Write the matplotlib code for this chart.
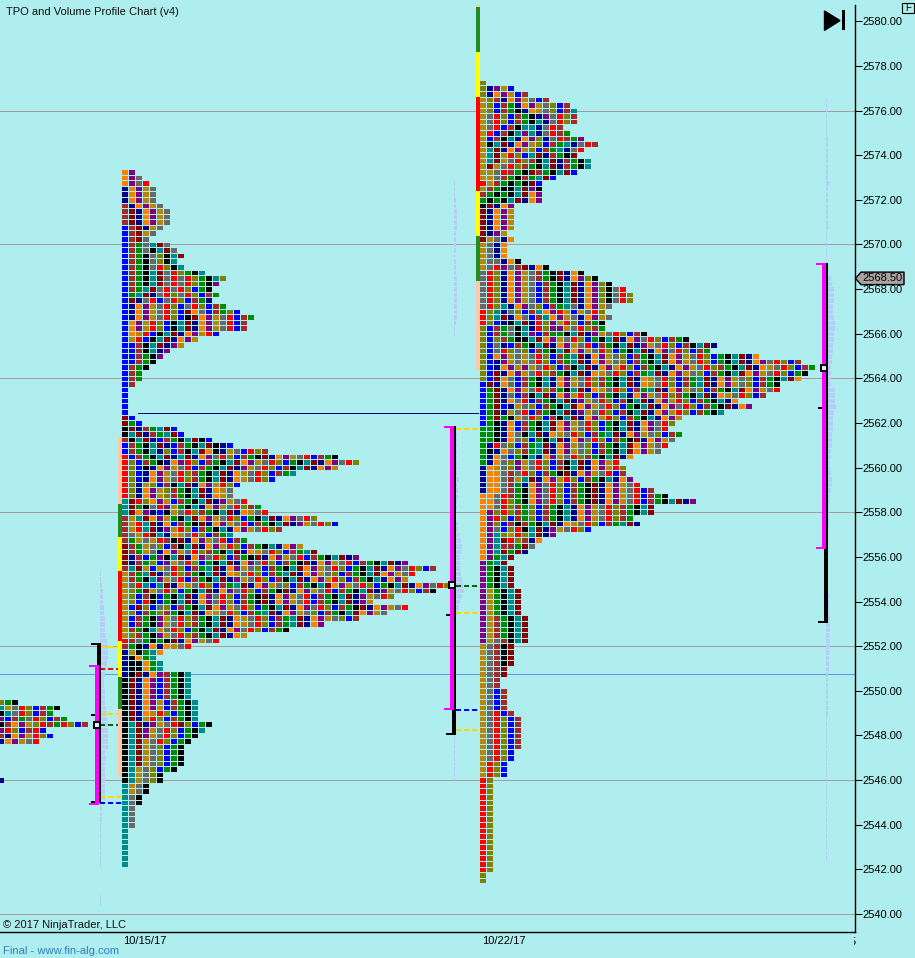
import matplotlib
matplotlib.use('Agg')
import matplotlib.pyplot as plt
from matplotlib.transforms import Bbox

plt.rcParams['font.family'] = ['Liberation Sans', 'DejaVu Sans']
plt.rcParams['lines.scale_dashes'] = False

BG = '#afeeee'
colors = {'b': '#0000ff', 'w': '#a52a2a', 'g': '#008b00', 'k': '#000000', 't': '#008b8b',
          'd': '#8b0000', 'n': '#00008b', 'o': '#ff7f00', 'p': '#800080', 'y': '#b8860b',
          's': '#696969', 'r': '#ff0000', 'l': '#808000'}
cycle = 'bwgktdnopysrl'
# periods that did not trade in a band of rows, used past the typed colours
band_shift = [0, 2, 5, 1, 7, 3, 9, 4, 11, 6, 8, 12, 10]

# (cells in the row, colours of the first cells) from the top price downwards
profile_a_top = 2549.5
profile_a = [(3, 'lgk'), (9, 'tysrlbwgk'), (8, 'ktsrlbwg'), (10, 'pbwgsrlbwg'), (13, 'kwopylrwgrlbw'),
             (7, 'prlbwrb'), (8, 'wnopyrlb'), (6, 'nopysr'),
             (0, ''), (0, ''), (0, ''), (0, ''), (0, ''), (0, ''), (1, 'n')]

profile_b_top = 2573.25
profile_b = [(2, 'op'), (3, 'ops'), (4, 'opsr'), (5, 'nopys'), (5, 'nopys'), (5, 'nopys'), (6, 'wnopys'),
             (7, 'wdnopys'), (7, 'wdnopys'), (7, 'wdnopys'), (6, 'bwdnys'), (5, 'bwdys'), (4, 'bwds'),
             (7, 'bwgstds'), (8, 'bwgsktds'), (9, 'bwgkslktd'), (8, 'bwgkslkt'), (9, 'bwgksrlkt'),
             (12, 'bwgktdsrlgkt'), (15, 'bwgktdsrsrlgkt'), (14, 'bwgktdsrsrlgk'), (13, 'bwgtdsrsrlbgk'),
             (14, 'bgtdnsrlsrlbwg'), (13, 'bdnsrbsrlbwg'), (15, 'bnopysrlbsrlbwg'), (17, 'bnopysrlbdosbwg'),
             (19, 'bnopysrlbkdopysrbwg'), (18, 'bopyrlbktdnopysrbw'), (18, 'bopyrlbktdnopysrbw'),
             (14, 'boyrbktdnopyrb'), (11, 'byrbktdnopy'), (9, 'bbwktdnpy'), (7, 'bbwktnp'), (6, 'bbwgkp'),
             (5, 'bbwgk'), (4, 'bwgk'), (3, 'bwg'), (3, 'bwg'), (2, 'bw'), (1, 'b'), (1, 'b'), (1, 'b'),
             (1, 'b'), (1, 'b'), (2, 'db'), (3, 'dgb'), (8, 'kdnwgtdb'),
             (9, 'ktdnwgtdb'), (13, 'wktdnbwgktdkb'), (16, 'bwgktdnbwgktdknb'), (21, 'bwgktnlbwktdoknysb'),
             (31, 'rbwgktdn'), (34, 'rlbwgknoprl'), (31, 'rlbknop'), (25, 'rlbnopys'), (22, 'rlbnopys'),
             (17, 'rlny'), (16, 'rlnopy'), (16, 'rlnopy'), (18, 'tdrlopy'), (20, 'tdgksrpy'), (21, 'tdopnbk'),
             (28, 'wytdopy'), (31, 'wyrtdno'), (23, 'wyrtdn'), (16, 'wsyrdt'), (18, 'wgysyrw'), (26, 'dwgys'),
             (28, 'dwgys'), (34, 'dnwbgp'), (41, 'dnwglb'), (45, 'wtdyb'), (42, 'ywgtdn'), (41, 'ywgkt'),
             (47, 'ysrtb'), (45, 'ylgd'), (39, 'ylbwk'), (36, 'ylbrk'), (41, 'ybdlb'), (38, 'ylbwg'),
             (34, 'ybwgk'), (29, 'ybwgk'), (24, 'ywgkt'), (18, 'ylwgk'), (14, 'rwsgk'), (10, 'wgkno'),
             (6, 'nykgto'), (5, 'nkogt'), (6, 'nkkogt'), (6, 'nkkogt'), (10, 'nkdnopwgkt'),
             (10, 'kdnopbwgkt'), (10, 'kdnopbwgkt'), (10, 'kdnopbwgkt'), (10, 'kdnopbwgkt'),
             (11, 'kdnopybwgkt'), (11, 'kdnopybwgkt'), (11, 'kdnoyrlbgkt'), (11, 'kdnyrlbwgkt'),
             (13, 'ktdnpysrdlbgk'), (12, 'ktdpysrlbgkt'), (11, 'ktdpysrlbgk'), (10, 'ktdysrlbgk'),
             (9, 'ktdyslbgk'), (9, 'ktdyslbgk'), (9, 'ktdyslbgk'), (9, 'ktdyslbgk'), (8, 'ktyslbgk'),
             (6, 'ktyslk'), (6, 'ktyslk'), (4, 'tysk'), (4, 'tysk'), (3, 'tsk'), (3, 'tsk'),
             (2, 'ts'), (2, 'ts'), (2, 'ts'), (2, 'ts'),
             (1, 't'), (1, 't'), (1, 't'), (1, 't'), (1, 't'), (1, 't'), (1, 't')]

profile_c_top = 2577.25
profile_c = [(1, 'l'), (5, 'lnpyb'), (7, 'lnopybw'), (10, 'ylwnopysbw'), (13, 'ylbwgnopyslbw'), (14, 'ylbwgknoyslbw'),
             (14, 'ysrlbwgknpsrlw'), (14, 'ysrlbwgktnsrlw'), (12, 'ysrbwkttnsrw'), (13, 'yrbwktptnsrwg'),
             (15, 'ybwktnoplnsrwg'), (17, 'yktdnopylbwgtnsrw'), (15, 'ytdnopylbwgtnsr'), (14, 'ytdyrlbtdnwgk'),
             (16, 'ytdysrlwktdnwgkt'), (16, 'ydysrlwgktdnwgkt'), (14, 'yysrwgkdwgktd'), (11, 'yyswgkwgtd'),
             (9, 'rywgkgkd'), (9, 'ywgkktdp'), (9, 'wgkgktdop'), (9, 'gkgktdnop'), (5, 'kdnop'), (5, 'dnopy'),
             (5, 'dnopy'), (5, 'dnopy'), (5, 'dnopy'), (4, 'dnpy'), (5, 'dysno'), (4, 'ysno'), (4, 'ysno'),
             (4, 'ysno'), (6, 'yssnok'), (10, 'ysrpswdnok'),
             (15, 'srlnopyswgkdnok'), (17, 'srlnopyswgkdnoplk'), (19, 'srlnopysbwgktdnoplk'),
             (21, 'srlnopysbwgktdnoplk'), (22, 'srlnopysbwgktdnoplk'), (22, 'srlnopysbwgktdnoplk'),
             (19, 'srltnopslbwgts'), (18, 'rltnslbwtopryb'), (19, 'rltdnosbwtopys'), (18, 'rlbnktdnrl'),
             (18, 'lbwgsktnrlp'), (24, 'lbwgsktpbwg'), (30, 'lblwgk'), (34, 'lbsnbwgkt'), (33, 'lbsrl'),
             (40, 'lbopys'), (46, 'lbnpys'), (48, 'lbnopy'), (47, 'lbdnopy'), (46, 'lbdosb'), (43, 'bdnosb'),
             (43, 'bgdno'), (41, 'bgdns'), (37, 'bgdno'), (39, 'bgdbn'), (35, 'bgdn'), (29, 'bgdgk'), (28, 'bgkno'),
             (27, 'ggkno'), (29, 'ggknos'), (28, 'ggknos'), (27, 'gnrs'), (26, 'gknosl'), (22, 'gnosb'), (20, 'gnosl'),
             (21, 'noysl'), (21, 'noosw'), (22, 'nooswy'), (23, 'nooswg'), (25, 'nooswgk'), (27, 'oosrwgk'),
             (31, 'oosrlgk'), (25, 'oosrlwg'), (25, 'oplrlwg'), (22, 'oprlbwg'), (23, 'oplbwk'), (16, 'opsblr'),
             (11, 'optlyrl'), (9, 'optdrlw'), (8, 'optwwgd'), (7, 'optdgdn'), (5, 'opgtd'), (4, 'pgtd'),
             (5, 'pgktd'), (5, 'pgktd'), (5, 'pgktd'), (5, 'pgktd'), (6, 'pygktd'), (6, 'pygktd'), (6, 'pygktd'),
             (6, 'pygktd'), (6, 'pygktd'), (7, 'pywgktd'), (7, 'pywgktd'), (7, 'pywgktd'), (7, 'pywgktd'),
             (7, 'pyswktd'), (5, 'yswkd'), (5, 'yswkd'), (5, 'yswkd'), (5, 'yswkd'),
             (4, 'yswd'), (4, 'yswd'), (3, 'ysw'), (3, 'ysw'), (4, 'ysbw'), (4, 'ysbw'), (4, 'ysbw'), (4, 'ysbw'),
             (5, 'ysrbw'), (6, 'ysrlbw'), (6, 'ysrlbw'), (6, 'ysrlbw'), (6, 'ysrlbw'), (6, 'ysrlbw'), (6, 'ysrlbw'),
             (5, 'ysrlb'), (5, 'ysrlb'), (4, 'yrlb'), (4, 'yrlb'), (4, 'yrlb'),
             (2, 'rl'), (2, 'rl'), (2, 'rl'), (2, 'rl'), (2, 'rl'), (2, 'rl'), (2, 'rl'), (2, 'rl'), (2, 'rl'),
             (2, 'rl'), (2, 'rl'), (2, 'rl'), (2, 'rl'), (2, 'rl'), (2, 'rl'), (2, 'rl'), (2, 'rl'),
             (1, 'l'), (1, 'l')]

# volume profiles next to each session, width per row
vol_a_top = 2555.25
vol_a = [1, 1, 2, 3, 3, 3, 4, 4, 5, 5, 5, 6, 7,
         8, 8, 8, 7, 6, 5, 4, 4, 5, 5, 5, 6, 7, 7, 8, 8, 8, 8, 8, 5, 6, 5, 5, 5, 5, 5, 5, 5, 4, 2, 2, 2,
         1, 1, 1, 1, 1, 1, 1, 1, 0, 0, 0, 0, 0, 1, 1]
vol_b1_top = 2572.75
vol_b1 = [1, 1, 1, 2, 2, 3, 3, 3, 3, 2, 2, 2, 2, 1, 2, 2, 2, 3, 3, 3, 3, 3, 3, 3, 3, 2, 1, 1]
vol_b2_top = 2561.75
vol_b2 = [3, 3, 3, 3, 3, 3, 3, 3, 3, 5, 3, 4, 4, 3, 3, 2, 2, 4, 4, 6, 7, 8, 7, 6, 6, 6, 7, 8, 9, 10, 8, 6, 5, 4, 2, 2,
          2, 2, 2, 2, 2, 2, 2, 2, 2, 2, 2, 2, 2, 2, 2, 2, 2, 1, 1, 1, 1, 1, 1, 1, 1, 1, 1, 1]
vol_c_top = 2576.5
vol_c = [1, 1, 1, 1, 1, 1, 1, 2, 2, 2, 2, 2, 2, 2, 2, 3, 2, 2, 2, 2, 2, 2, 2, 2, 1, 1, 1, 1, 1, 1,
         2, 2, 5, 6, 8, 8, 8, 7, 7, 8, 9, 9, 8, 8, 7, 7, 6, 6, 5, 5, 5, 5, 9, 9, 9, 10, 8, 7, 7, 7, 6, 6, 6, 5, 5, 4,
         4, 5, 6, 6, 5, 4, 4, 3, 3, 3, 3, 2, 2, 2, 2, 2, 2, 2, 2, 2, 2, 2, 2, 3, 3, 3, 3, 4, 4, 4, 3, 4, 4, 3, 3, 3, 3,
         2, 2, 2, 2, 2, 2, 2, 2, 1, 1, 1, 1, 1, 1, 1, 1, 1, 1, 1, 1, 1, 1, 1, 1, 1, 1, 1, 1, 1, 1, 1, 1, 1, 1]

# coloured price bars left of the profiles: top price, bottom price, colour
strip_b = [(2561.38, 2558.39, '#ffc8aa'), (2558.39, 2556.91, '#228b22'), (2556.91, 2555.38, '#ffff00'),
           (2555.38, 2552.25, '#ff0000'), (2552.25, 2550.65, '#ffff00'), (2550.65, 2549.19, '#228b22'),
           (2549.19, 2546.16, '#ffc8aa')]
strip_c = [(2580.75, 2580.66, '#ffc8aa'), (2580.66, 2578.64, '#228b22'), (2578.64, 2576.63, '#ffff00'),
           (2576.63, 2572.41, '#ff0000'), (2572.41, 2570.4, '#ffff00'), (2570.4, 2568.38, '#228b22'),
           (2568.38, 2564.4, '#ffc8aa')]

# magenta x, value area top/bottom, black range bottom/top, mid tick, poc
sessions = [(95, 2551.18, 2544.9, 2552.18, 2545.1, 2548.9, 2548.5),
            (450, 2561.89, 2549.16, 2561.89, 2548.13, 2553.37, 2554.75),
            (822, 2569.19, 2556.37, 2569.19, 2553.15, 2562.65, 2564.5)]
dash_a = [(2552.0, '#ffd700'), (2551.0, '#ff0000'), (2549.0, '#ffd700'), (2548.5, '#006400'),
          (2545.25, '#ffd700'), (2545.0, '#0000ff')]
dash_b = [(2561.75, '#ffd700'), (2554.7, '#006400'), (2553.5, '#ffd700'), (2549.15, '#0000ff'), (2548.25, '#ffd700')]

grid_prices = [2576, 2570, 2564, 2558, 2552, 2546, 2540]
price_ticks = list(range(2540, 2582, 2))

PX_PER_PT = 22.32
ROW = 0.25
CELL_H = (ROW * PX_PER_PT - 1) / PX_PER_PT
VOL_COLOR = '#b6cdf8'
# grid lines and ticks sit one pixel row higher than plain rounding gives
LINE_NUDGE = 0.02


def row_colors(lead, n, i):
    out = list(lead[:n])
    band = i // 4
    pos = cycle.index(lead[-1]) if lead else 0
    if len(out) < n:
        pos += band_shift[band % len(band_shift)]
    while len(out) < n:
        pos += 1
        if (len(out) + band * 3) % 7 == 0:
            pos += 1
        out.append(cycle[pos % len(cycle)])
    return [colors[c] for c in out]


def draw_profile(ax, rows, top, x0):
    xs, ys, cs = [], [], []
    for i, (n, lead) in enumerate(rows):
        rc = row_colors(lead, n, i)
        for k in range(n):
            xs.append(x0 + 7 * k)
            ys.append(top - i * ROW - CELL_H / 2)
            cs.append(rc[k])
    ax.bar(xs, CELL_H, width=6, bottom=ys, color=cs, align='edge', linewidth=0, zorder=4)


def draw_volume(ax, widths, top, x0):
    ys = [top - i * ROW for i in range(len(widths))]
    ax.barh(ys, widths, height=CELL_H, left=x0, color=VOL_COLOR, linewidth=0, zorder=2)


fig = plt.figure(figsize=(9.15, 9.58), dpi=100, facecolor=BG)
ax = fig.add_axes([0, (958 - 931.5) / 958, 854.5 / 915, 931.5 / 958], facecolor=BG)
ax.set_xlim(0, 854.5)
ax.set_ylim(2580 - (931.5 - 21.7) / PX_PER_PT, 2580 + 21.7 / PX_PER_PT)

for p in grid_prices:
    ax.axhline(p + LINE_NUDGE, color='#aa9a9a', lw=0.72, zorder=1)
ax.axhline(2550.76, color='#6495ed', lw=0.72, zorder=1)
ax.plot([138, 478], [2562.47, 2562.47], color='#00006e', lw=0.72, zorder=3)

draw_volume(ax, vol_a, vol_a_top, 100)
draw_volume(ax, vol_b1, vol_b1_top, 454)
draw_volume(ax, vol_b2, vol_b2_top, 454)
draw_volume(ax, vol_c, vol_c_top, 826)

for p, c in dash_a:
    ax.plot([100, 122], [p, p], color=c, lw=1.44, dashes=(3.6, 2.2), zorder=3)
for p, c in dash_b:
    ax.plot([456, 480], [p, p], color=c, lw=1.44, dashes=(3.6, 2.2), zorder=3)

for strip, x in ((strip_b, 118), (strip_c, 476)):
    for top, bottom, c in strip:
        ax.bar(x, top - bottom, width=4, bottom=bottom, color=c, align='edge', linewidth=0, zorder=3)

draw_profile(ax, profile_a, profile_a_top, -2)
draw_profile(ax, profile_b, profile_b_top, 122)
draw_profile(ax, profile_c, profile_c_top, 480)

CAP = 2 / PX_PER_PT
for x, va_top, va_bottom, rng_top, rng_bottom, tick, poc in sessions:
    ax.bar(x + 2, rng_top - rng_bottom, width=4, bottom=rng_bottom, color='black', align='edge', linewidth=0, zorder=5)
    ax.bar(x - 4, CAP, width=10, bottom=rng_bottom - CAP, color='black', align='edge', linewidth=0, zorder=5)
    ax.bar(x - 4, CAP, width=4, bottom=tick, color='black', align='edge', linewidth=0, zorder=5)
    if rng_top > va_top:
        ax.bar(x - 4, CAP, width=10, bottom=rng_top - CAP, color='black', align='edge', linewidth=0, zorder=5)
    ax.bar(x, va_top - va_bottom, width=4, bottom=va_bottom, color='#ff00ff', align='edge', linewidth=0, zorder=6)
    ax.bar(x - 6, CAP, width=6, bottom=va_top - CAP, color='#ff00ff', align='edge', linewidth=0, zorder=6)
    ax.bar(x - 6, CAP, width=6, bottom=va_bottom, color='#ff00ff', align='edge', linewidth=0, zorder=6)
    ax.plot([x + 1.5], [poc], 's', ms=4.3, mfc='#d8f5f5', mec='black', mew=1.44, zorder=7)

for s in ('top', 'left'):
    ax.spines[s].set_visible(False)
ax.spines['right'].set_bounds(ax.get_ylim()[0], 2580.75)
ax.spines['right'].set_linewidth(1.0)
ax.spines['bottom'].set_linewidth(1.0)

ax.yaxis.tick_right()
ax.set_yticks([p + LINE_NUDGE for p in price_ticks])
ax.set_yticklabels(['%.2f' % p for p in price_ticks])
ax.tick_params(axis='y', length=5, width=0.75, pad=0.4, labelsize=8, colors='black')
ax.set_xticks([145, 504])
ax.set_xticklabels(['10/15/17', '10/22/17'])
ax.tick_params(axis='x', length=0, pad=3, labelsize=8)


def px_text(x, y, s, **kw):
    return fig.text(x / 915, 1 - y / 958, s, va='center', **kw)


px_text(6, 12, 'TPO and Volume Profile Chart (v4)', fontsize=8, color='#111111')
px_text(3, 925.5, '\u00a9 2017 NinjaTrader, LLC', fontsize=8, color='#111111')
px_text(3, 951.5, 'Final - www.fin-alg.com', fontsize=8.1, color='#2f7fc0')
clipped = px_text(850, 942, '5', fontsize=8, color='black')
clipped.set_clip_box(Bbox([[854, 0], [858, 958]]))
clipped.set_clip_on(True)

# last price tag
ax.fill([855.5, 861, 904, 904, 861], [2568.5, 2568.78, 2568.78, 2568.22, 2568.22], facecolor='#a9a3a3',
        edgecolor='black', lw=1.0, clip_on=False, zorder=8)
ax.text(862.5, 2568.5, '2568.50', fontsize=8, va='center', ha='left', color='black', clip_on=False, zorder=9)

# skip-to-end button and F box
ax.fill([824.5, 840, 824.5], [2580.48, 2580.05, 2579.61], color='black', zorder=8)
ax.bar(842, 0.9, width=3, bottom=2579.62, color='black', align='edge', linewidth=0, zorder=8)
ax.fill([902, 914, 914, 902], [2580.84, 2580.84, 2580.39, 2580.39], facecolor=BG, edgecolor='black', lw=0.8,
        clip_on=False, zorder=8)
ax.text(908, 2580.61, 'F', fontsize=7, va='center', ha='center', clip_on=False, zorder=9)

fig.savefig('out.png', dpi=100, facecolor=BG)
